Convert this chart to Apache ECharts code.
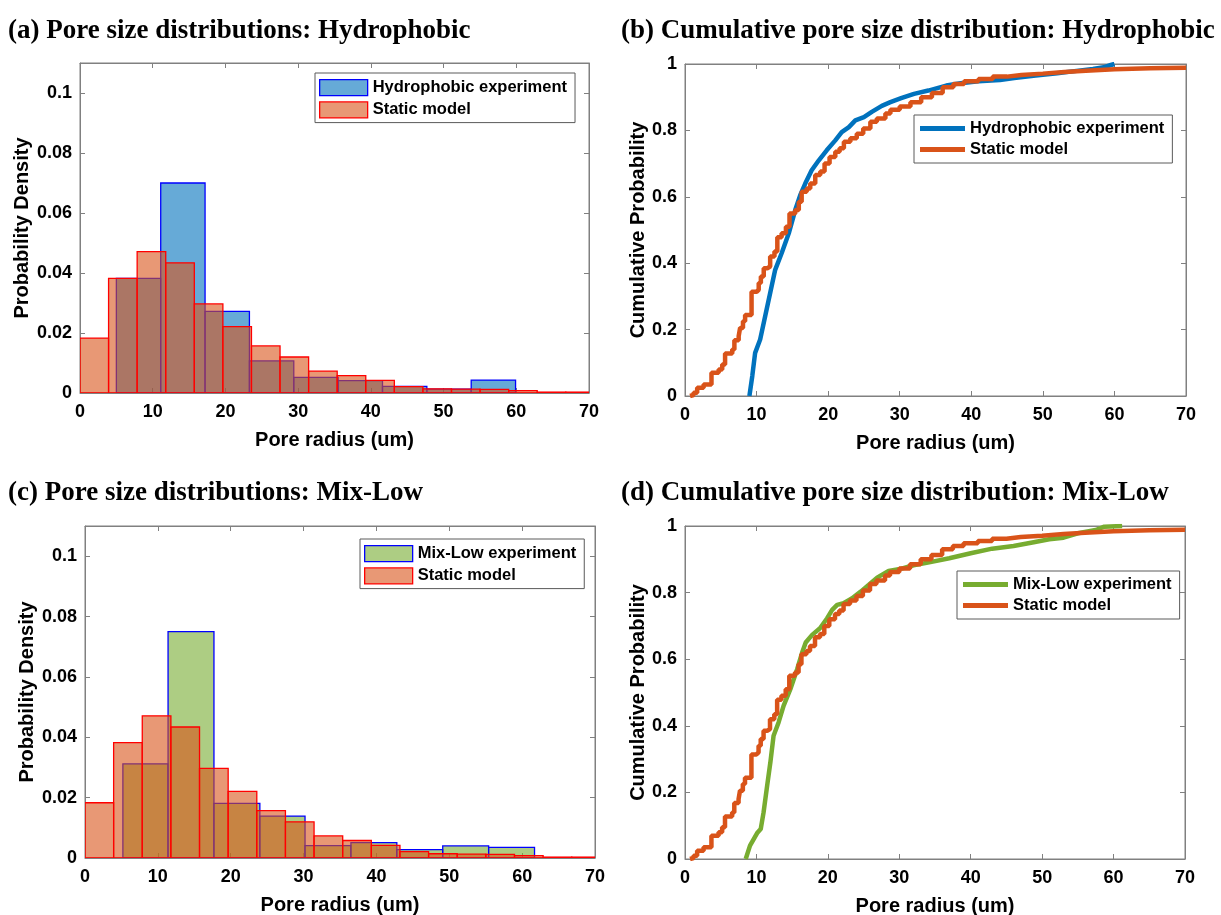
<!DOCTYPE html>
<html>
<head>
<meta charset="utf-8">
<title>Pore size distributions</title>
<script src="https://cdn.jsdelivr.net/npm/echarts@6/dist/echarts.min.js"></script>
<style>
  html, body { margin: 0; padding: 0; background: #fff; }
  #wrap { position: relative; width: 1221px; height: 915px; }
  .panel { position: absolute; }
  #chartA { left: 0; top: 0; width: 610px; height: 457px; }
  #chartB { left: 610px; top: 0; width: 611px; height: 457px; }
  #chartC { left: 0; top: 457px; width: 610px; height: 458px; }
  #chartD { left: 610px; top: 457px; width: 611px; height: 458px; }
</style>
</head>
<body>
<div id="wrap">
  <div id="chartA" class="panel"></div>
  <div id="chartB" class="panel"></div>
  <div id="chartC" class="panel"></div>
  <div id="chartD" class="panel"></div>
</div>
<script>
// histogram bins (pore radius, um) and probability densities
const hydroEdges = [5.0, 11.1, 17.2, 23.3, 29.4, 35.5, 41.6, 47.7, 53.8, 59.9];
const hydroDensity = [0.0382, 0.0700, 0.0272, 0.0107, 0.0052, 0.0041, 0.0022, 0.0013, 0.0043];

const mixLowEdges = [5.2, 11.4, 17.7, 24.0, 30.2, 36.5, 42.8, 49.1, 55.4, 61.7];
const mixLowDensity = [0.0312, 0.0750, 0.0181, 0.0139, 0.0041, 0.0051, 0.0028, 0.0040, 0.0035];

const modelEdges = [0, 3.93, 7.86, 11.79, 15.72, 19.65, 23.58, 27.51, 31.44, 35.37,
  39.3, 43.23, 47.16, 51.09, 55.02, 58.95, 62.88, 66.81, 70.74];
const modelDensity = [0.0183, 0.0382, 0.0471, 0.0434, 0.0297, 0.0221, 0.0157, 0.0120, 0.0073,
  0.0058, 0.0042, 0.0021, 0.0014, 0.0013, 0.0012, 0.0008, 0.0003, 0.0003];

// cumulative curves [radius, probability]
const hydroCdf = [[9.0, 0], [9.4, 0.06], [9.8, 0.13], [10.5, 0.17], [11.2, 0.24], [11.9, 0.31],
  [12.6, 0.38], [13.5, 0.43], [14.5, 0.49], [15.4, 0.56], [16.1, 0.605], [16.8, 0.64],
  [17.7, 0.68], [18.7, 0.71], [19.8, 0.74], [21, 0.77], [21.9, 0.795], [22.9, 0.81],
  [23.8, 0.83], [25, 0.84], [26.1, 0.856], [27.5, 0.874], [28.7, 0.885], [30.2, 0.897],
  [32, 0.91], [34, 0.92], [36.5, 0.935], [38.5, 0.942], [41, 0.948], [44, 0.952],
  [46, 0.958], [49, 0.965], [52, 0.972], [55, 0.98], [57, 0.985], [58.5, 0.99],
  [59.5, 0.997], [60, 1]];

const mixLowCdf = [[8.5, 0], [9.1, 0.04], [10.1, 0.078], [10.6, 0.09], [11, 0.14], [11.5, 0.22],
  [11.95, 0.29], [12.4, 0.37], [13.1, 0.41], [13.8, 0.46], [14.75, 0.51], [15.7, 0.57],
  [16.4, 0.62], [16.9, 0.65], [17.8, 0.673], [18.9, 0.693], [19.9, 0.723], [20.6, 0.748],
  [21.3, 0.763], [22.2, 0.768], [23.4, 0.783], [24.6, 0.803], [25.7, 0.823], [26.9, 0.845],
  [28.5, 0.865], [30.3, 0.872], [32, 0.882], [34, 0.89], [37, 0.903], [40, 0.918],
  [43, 0.932], [46, 0.94], [49, 0.952], [51, 0.96], [53, 0.965], [55, 0.978],
  [57.5, 0.988], [58.7, 0.998], [61.2, 1]];

// static model ecdf, step points (jump position, value after jump)
const modelCdf = [[0.7, 0], [0.8, 0.003], [1.2, 0.01], [1.7, 0.025], [2.6, 0.035], [3.7, 0.07],
  [4.7, 0.08], [5.2, 0.095], [5.6, 0.128], [6.6, 0.14], [6.9, 0.168], [7.5, 0.18],
  [7.7, 0.205], [8.1, 0.225], [8.4, 0.244], [9.3, 0.314], [10.0, 0.32], [10.3, 0.34],
  [10.6, 0.36], [11.0, 0.385], [11.5, 0.39], [11.9, 0.42], [12.5, 0.435], [12.9, 0.478],
  [13.5, 0.49], [14.1, 0.51], [14.6, 0.55], [15.4, 0.56], [15.9, 0.585], [16.3, 0.615],
  [17.0, 0.625], [17.5, 0.64], [18.2, 0.666], [18.9, 0.676], [19.5, 0.70], [20.2, 0.72],
  [21, 0.736], [21.6, 0.746], [22.2, 0.766], [23.1, 0.776], [24, 0.79], [24.9, 0.806],
  [25.9, 0.826], [26.8, 0.836], [28, 0.851], [28.7, 0.862], [30, 0.872], [31.5, 0.885],
  [33, 0.9], [34.5, 0.913], [36, 0.93], [37.5, 0.94], [39, 0.948], [41, 0.955],
  [43, 0.962], [45, 0.967], [47, 0.971], [50, 0.976], [53, 0.98], [56, 0.984],
  [60, 0.987], [65, 0.989], [70, 0.99]];

const axisGray = '#808080';
const sans = 'Liberation Sans';
const serif = 'Liberation Serif';

const blueFill = 'rgba(0,114,189,0.6)';
const greenFill = 'rgba(119,172,48,0.6)';
const redFill = 'rgba(217,83,25,0.6)';

function titleOpt(text, left, top) {
  return {
    text: text, left: left, top: top, padding: 0,
    textStyle: { fontFamily: serif, fontWeight: 'bold', fontSize: 27, color: '#000' }
  };
}

function xAxes(nameGap) {
  const base = {
    type: 'value', min: 0, max: 70, interval: 10,
    axisLine: { show: true, onZero: false, lineStyle: { color: axisGray, width: 1 } },
    axisTick: { show: true, inside: true, length: 5, lineStyle: { color: axisGray } },
    splitLine: { show: false }
  };
  return [
    Object.assign({}, base, {
      position: 'bottom',
      axisLabel: { color: '#000', fontFamily: sans, fontWeight: 'bold', fontSize: 18, margin: 10 },
      name: 'Pore radius (um)', nameLocation: 'middle', nameGap: nameGap, nameMoveOverlap: false,
      nameTextStyle: { color: '#000', fontFamily: sans, fontWeight: 'bold', fontSize: 20 }
    }),
    Object.assign({}, base, { position: 'top', axisLabel: { show: false } })
  ];
}

function yAxes(max, interval, name, nameGap) {
  const base = {
    type: 'value', min: 0, max: max, interval: interval,
    axisLine: { show: true, onZero: false, lineStyle: { color: axisGray, width: 1 } },
    axisTick: { show: true, inside: true, length: 5, lineStyle: { color: axisGray } },
    splitLine: { show: false }
  };
  return [
    Object.assign({}, base, {
      position: 'left',
      axisLabel: {
        color: '#000', fontFamily: sans, fontWeight: 'bold', fontSize: 18, margin: 8,
        formatter: function (v) {
          const k = v / interval;
          if (Math.abs(k - Math.round(k)) > 1e-6) return '';
          return String(+v.toFixed(3));
        }
      },
      name: name, nameLocation: 'middle', nameGap: nameGap, nameMoveOverlap: false,
      nameTextStyle: { color: '#000', fontFamily: sans, fontWeight: 'bold', fontSize: 20 }
    }),
    Object.assign({}, base, { position: 'right', axisLabel: { show: false } })
  ];
}

function histSeries(name, edges, density, fill, edge) {
  const data = density.map(function (h, i) { return [edges[i], edges[i + 1], h]; });
  return {
    name: name,
    type: 'custom',
    clip: true,
    xAxisIndex: 0, yAxisIndex: 0,
    itemStyle: { color: fill, borderColor: edge, borderWidth: 1.3 },
    encode: { x: [0, 1], y: 2 },
    renderItem: function (params, api) {
      const p0 = api.coord([api.value(0), api.value(2)]);
      const p1 = api.coord([api.value(1), 0]);
      return {
        type: 'rect',
        shape: { x: p0[0], y: p0[1], width: p1[0] - p0[0], height: p1[1] - p0[1] },
        style: { fill: fill, stroke: edge, lineWidth: 1.3 }
      };
    },
    data: data
  };
}

function legendOpt(left, top, items, iconW, iconH, gap, padding) {
  return {
    orient: 'vertical', left: left, top: top,
    itemWidth: iconW, itemHeight: iconH, itemGap: gap,
    padding: padding,
    backgroundColor: '#fff', borderColor: '#5a5a5a', borderWidth: 1, borderRadius: 0,
    selectedMode: false,
    textStyle: { color: '#000', fontFamily: sans, fontWeight: 'bold', fontSize: 16.5 },
    data: items
  };
}

function histChart(id, title, expName, edges, density, fill, grid, legendPos) {
  const chart = echarts.init(document.getElementById(id), null, { renderer: 'canvas' });
  const option = {
    animation: false,
    title: titleOpt(title, 8, grid.titleTop),
    grid: {
      left: grid.left, top: grid.top, width: grid.width, height: grid.height,
      show: true, borderColor: axisGray, borderWidth: 1, backgroundColor: 'transparent',
      containLabel: false, outerBoundsMode: 'none'
    },
    xAxis: xAxes(37),
    yAxis: yAxes(0.11, 0.02, 'Probability Density', grid.yNameGap),
    legend: legendOpt(legendPos.left, legendPos.top, [
      { name: expName, icon: 'rect', itemStyle: { color: fill, borderColor: '#0000ff', borderWidth: 1.3 } },
      { name: 'Static model', icon: 'rect', itemStyle: { color: redFill, borderColor: '#ff0000', borderWidth: 1.3 } }
    ], 48, 16, 5, [6, 8, 4, 4]),
    series: [
      histSeries(expName, edges, density, fill, '#0000ff'),
      histSeries('Static model', modelEdges, modelDensity, redFill, '#ff0000')
    ]
  };
  chart.setOption(option);
}

function cdfChart(id, title, expName, expCdf, color, grid, legendPos) {
  const chart = echarts.init(document.getElementById(id), null, { renderer: 'canvas' });
  const option = {
    animation: false,
    title: titleOpt(title, 11, grid.titleTop),
    grid: {
      left: grid.left, top: grid.top, width: grid.width, height: grid.height,
      show: true, borderColor: axisGray, borderWidth: 1, backgroundColor: 'transparent',
      containLabel: false, outerBoundsMode: 'none'
    },
    xAxis: xAxes(37),
    yAxis: yAxes(1, 0.2, 'Cumulative Probability', 37),
    legend: legendOpt(legendPos.left, legendPos.top, [
      { name: expName, icon: 'rect', itemStyle: { color: color, borderWidth: 0 } },
      { name: 'Static model', icon: 'rect', itemStyle: { color: '#D95319', borderWidth: 0 } }
    ], 45, 5, 4, [5, 8, 5, 6]),
    series: [
      {
        name: expName, type: 'line', showSymbol: false, symbol: 'none',
        xAxisIndex: 0, yAxisIndex: 0,
        color: color,
        lineStyle: { color: color, width: 4.5 },
        data: expCdf
      },
      {
        name: 'Static model', type: 'line', showSymbol: false, symbol: 'none', step: 'end',
        xAxisIndex: 0, yAxisIndex: 0,
        color: '#D95319',
        lineStyle: { color: '#D95319', width: 4.5 },
        data: modelCdf
      }
    ]
  };
  chart.setOption(option);
}

histChart('chartA', '(a) Pore size distributions: Hydrophobic', 'Hydrophobic experiment',
  hydroEdges, hydroDensity, blueFill,
  { left: 80, top: 63, width: 509, height: 330, titleTop: 18, yNameGap: 48 },
  { left: 315, top: 73 });

cdfChart('chartB', '(b) Cumulative pore size distribution: Hydrophobic', 'Hydrophobic experiment',
  hydroCdf, '#0072BD',
  { left: 75, top: 64, width: 501, height: 332, titleTop: 18 },
  { left: 304, top: 115 });

histChart('chartC', '(c) Pore size distributions: Mix-Low', 'Mix-Low experiment',
  mixLowEdges, mixLowDensity, greenFill,
  { left: 85, top: 69, width: 510, height: 332, titleTop: 23, yNameGap: 48 },
  { left: 360, top: 82 });

cdfChart('chartD', '(d) Cumulative pore size distribution: Mix-Low', 'Mix-Low experiment',
  mixLowCdf, '#77AC30',
  { left: 75, top: 69, width: 500, height: 333, titleTop: 23 },
  { left: 347, top: 114 });
</script>
</body>
</html>
